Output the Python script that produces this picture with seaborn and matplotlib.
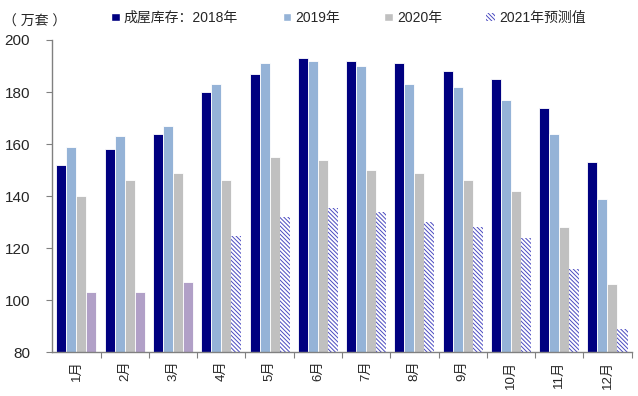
import pandas as pd
import seaborn as sns
import matplotlib.pyplot as plt
from matplotlib.patches import Patch
from matplotlib.ticker import FixedLocator

months = ["1月", "2月", "3月", "4月", "5月", "6月", "7月", "8月", "9月", "10月", "11月", "12月"]
years = ["成屋库存：2018年", "2019年", "2020年", "2021年预测值"]
v2018 = [152, 158, 164, 180, 187, 193, 192, 191, 188, 185, 174, 153]
v2019 = [159, 163, 167, 183, 191, 192, 190, 183, 182, 177, 164, 139]
v2020 = [140, 146, 149, 146, 155, 154, 150, 149, 146, 142, 128, 106]
v2021 = [103, 103, 107, 124.5, 132, 135.5, 134, 130, 128, 124, 112, 89]
n_actual_2021 = 3  # first three months of 2021 are actual values (solid purple)

df = pd.DataFrame({
    "month": months * 4,
    "year": [y for y in years for _ in months],
    "value": v2018 + v2019 + v2020 + v2021,
})

colors = ["#000080", "#95B3D7", "#C0C0C0", "#FFFFFF"]
hatch_color = "#4A4AC0"
purple = "#B1A0C7"
hatch = "\\" * 8

sns.set_style("white")
plt.rcParams["font.family"] = ["Liberation Sans", "Noto Sans CJK SC", "DejaVu Sans"]
plt.rcParams["hatch.linewidth"] = 0.7

fig = plt.figure(figsize=(6.38, 3.96), dpi=100)
ax = fig.add_axes([0.082, 0.111, 0.908, 0.788])

sns.barplot(data=df, x="month", y="value", hue="year", palette=colors,
            width=0.83, gap=0, ax=ax, legend=False, saturation=1)

for c, cont in enumerate(ax.containers):
    for i, bar in enumerate(cont):
        bar.set_linewidth(0.6)
        bar.set_edgecolor("white")
        if c == 3:
            if i < n_actual_2021:
                bar.set_facecolor(purple)
            else:
                bar.set_facecolor("white")
                bar.set_edgecolor(hatch_color)
                bar.set_hatch(hatch)
                bar.set_linewidth(0)

ax.set_ylim(80, 200)
ax.set_yticks(range(80, 201, 20))
ax.set_xlim(-0.5, 11.5)
ax.set_xlabel("")
ax.set_ylabel("")

ax.tick_params(axis="y", labelsize=11, length=4, width=0.8, color="#808080", direction="out", left=True, pad=12)
ax.tick_params(axis="x", which="major", length=0, labelsize=9.5, labelrotation=90, pad=6)
ax.xaxis.set_minor_locator(FixedLocator([i + 0.5 for i in range(12)]))
ax.tick_params(axis="x", which="minor", length=4, width=0.8, color="#808080", direction="out", bottom=True)

for s in ["top", "right"]:
    ax.spines[s].set_visible(False)
for s in ["left", "bottom"]:
    ax.spines[s].set_color("#808080")
    ax.spines[s].set_linewidth(1.0)

fig.text(0.005, 0.945, "（ 万套 ）", fontsize=10, ha="left", va="center")

handles = [
    Patch(facecolor=colors[0]),
    Patch(facecolor=colors[1]),
    Patch(facecolor=colors[2]),
    Patch(facecolor="white", edgecolor=hatch_color, hatch=hatch, linewidth=0),
]
leg = fig.legend(handles, years, loc="center left", bbox_to_anchor=(0.155, 0.955), ncol=4,
                 frameon=False, fontsize=10, handlelength=0.6, handleheight=0.6,
                 handletextpad=0.3, columnspacing=3.2)

fig.savefig("out.png", dpi=100)
